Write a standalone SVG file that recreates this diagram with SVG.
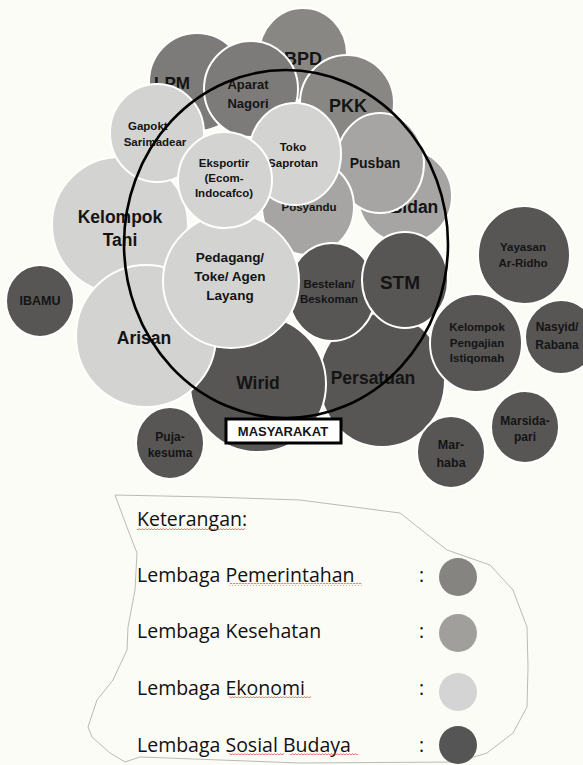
<svg xmlns="http://www.w3.org/2000/svg" width="583" height="765" viewBox="0 0 583 765">
  <defs>
    <style>
      .gov { fill: #888784; }
      .gov2 { fill: #7c7b79; }
      .hlt { fill: #a6a5a3; }
      .eco { fill: #d3d3d1; }
      .soc { fill: #575654; }
      .node ellipse { stroke: #ffffff; stroke-width: 2; }
      .lbl { font-family: "Liberation Sans", Arial, sans-serif; font-weight: bold; fill: #141414; text-anchor: middle; }
      .xl { font-size: 17.5px; }
      .l { font-size: 13.5px; }
      .s { font-size: 11.5px; }
      .ss { font-size: 12px; }
      .legend { font-family: "Open Sans", "Liberation Sans", sans-serif; font-size: 19.5px; fill: #111111; }
      .spell { fill: url(#squiggle); }
    </style>
    <pattern id="squiggle" x="0" y="0" width="3" height="3" patternUnits="userSpaceOnUse">
      <path d="M0 2.2 L1.5 0.6 L3 2.2" fill="none" stroke="#e03030" stroke-width="0.7"/>
    </pattern>
  </defs>

  <rect x="0" y="0" width="583" height="765" fill="#fcfcf6"/>

  <!-- upper cluster, back to front -->
  <g id="bpd" class="node"><ellipse class="gov" cx="303" cy="54" rx="44" ry="46"/><text class="lbl" x="303" y="65" font-size="18">BPD</text></g>
  <g id="lpm" class="node"><ellipse class="gov2" cx="197" cy="82" rx="48" ry="49"/><text class="lbl" x="172" y="89" font-size="17">LPM</text></g>
  <g id="aparat-nagori" class="node"><ellipse class="gov2" cx="251" cy="89" rx="47" ry="48"/><text class="lbl" x="248" y="89" font-size="13">Aparat</text><text class="lbl" x="248" y="108" font-size="13">Nagori</text></g>
  <g id="pkk" class="node"><ellipse class="gov" cx="347" cy="103" rx="47" ry="48"/><text class="lbl" x="348" y="112" font-size="18">PKK</text></g>
  <g id="kelompok-tani" class="node"><ellipse class="eco" cx="120" cy="225" rx="68" ry="68"/><text class="lbl xl" x="120" y="223">Kelompok</text><text class="lbl xl" x="120" y="246">Tani</text></g>
  <g id="gapoktan" class="node"><ellipse class="eco" cx="157" cy="133" rx="47" ry="49"/><text class="lbl s" x="128" y="130" style="text-anchor:start">Gapokt</text><text class="lbl s" x="155" y="146">Sarimadear</text></g>
  <g id="bidan" class="node"><ellipse class="hlt" cx="405" cy="196" rx="47" ry="47"/><text class="lbl xl" x="414" y="213">Bidan</text></g>
  <g id="pusban" class="node"><ellipse class="hlt" cx="380" cy="163" rx="44" ry="50"/><text class="lbl" x="375" y="168" font-size="14">Pusban</text></g>
  <g id="posyandu" class="node"><ellipse class="hlt" cx="308" cy="207" rx="46" ry="48"/><text class="lbl s" x="309" y="211">Posyandu</text></g>
  <g id="toko-saprotan" class="node"><ellipse class="eco" cx="295" cy="154" rx="46" ry="51"/><text class="lbl s" x="293" y="151">Toko</text><text class="lbl s" x="293" y="167">Saprotan</text></g>

  <!-- lower cluster -->
  <g id="persatuan" class="node"><ellipse class="soc" cx="382" cy="380" rx="63" ry="67"/><text class="lbl xl" x="373" y="384">Persatuan</text></g>
  <g id="wirid" class="node"><ellipse class="soc" cx="258" cy="384" rx="68" ry="68"/><text class="lbl xl" x="258" y="389">Wirid</text></g>
  <g id="arisan" class="node"><ellipse class="eco" cx="146" cy="336" rx="70" ry="71"/><text class="lbl xl" x="144" y="344">Arisan</text></g>
  <g id="bestelan" class="node"><ellipse class="soc" cx="332" cy="292" rx="44" ry="49"/><text class="lbl s" x="329" y="288">Bestelan/</text><text class="lbl s" x="329" y="303">Beskoman</text></g>
  <g id="stm" class="node"><ellipse class="soc" cx="405" cy="280" rx="43" ry="48"/><text class="lbl" x="400" y="289" font-size="19">STM</text></g>
  <g id="pedagang" class="node"><ellipse class="eco" cx="231" cy="281" rx="68" ry="67"/><text class="lbl l" x="230" y="262">Pedagang/</text><text class="lbl l" x="230" y="281">Toke/ Agen</text><text class="lbl l" x="230" y="300">Layang</text></g>
  <g id="eksportir" class="node"><ellipse class="eco" cx="225" cy="180" rx="47" ry="48"/><text class="lbl s" x="224" y="167">Eksportir</text><text class="lbl s" x="224" y="182">(Ecom-</text><text class="lbl s" x="224" y="197">Indocafco)</text></g>

  <!-- outer organisations -->
  <g id="ibamu" class="node"><ellipse class="soc" cx="40" cy="301" rx="34" ry="36"/><text class="lbl" x="40" y="305" font-size="12.5">IBAMU</text></g>
  <g id="puja-kesuma" class="node"><ellipse class="soc" cx="170" cy="443" rx="34" ry="36"/><text class="lbl ss" x="170" y="441">Puja-</text><text class="lbl ss" x="170" y="457">kesuma</text></g>
  <g id="yayasan" class="node"><ellipse class="soc" cx="524" cy="255" rx="46" ry="49"/><text class="lbl s" x="523" y="251">Yayasan</text><text class="lbl s" x="523" y="267">Ar-Ridho</text></g>
  <g id="pengajian" class="node"><ellipse class="soc" cx="476" cy="343" rx="46" ry="49"/><text class="lbl s" x="477" y="331">Kelompok</text><text class="lbl s" x="477" y="347">Pengajian</text><text class="lbl s" x="477" y="362">Istiqomah</text></g>
  <g id="nasyid" class="node"><ellipse class="soc" cx="561" cy="337" rx="36" ry="37"/><text class="lbl ss" x="557" y="331">Nasyid/</text><text class="lbl ss" x="557" y="349">Rabana</text></g>
  <g id="marsidapari" class="node"><ellipse class="soc" cx="525" cy="427" rx="34" ry="36"/><text class="lbl ss" x="525" y="425">Marsida-</text><text class="lbl ss" x="525" y="441">pari</text></g>
  <g id="marhaba" class="node"><ellipse class="soc" cx="451" cy="452" rx="34" ry="36"/><text class="lbl" x="451" y="449" font-size="12.5">Mar-</text><text class="lbl" x="451" y="467" font-size="12.5">haba</text></g>

  <!-- community boundary -->
  <g id="connectors">
    <ellipse cx="286" cy="244" rx="162" ry="174" fill="none" stroke="#000000" stroke-width="2.6"/>
  </g>
  <g id="masyarakat">
    <rect x="226" y="419" width="115" height="24" fill="#ffffff" stroke="#000000" stroke-width="3"/>
    <text class="lbl" x="283" y="436" font-size="13">MASYARAKAT</text>
  </g>

  <!-- legend -->
  <g id="legend">
    <path d="M115 495 L210 497 L300 500 L400 513 L447 550 L490 565 L513 590 L527 627 L528 667 L527 707 L513 733 L487 753 L457 762 L300 763 L140 757 L125 762 L110 753 L92 737 L88 727 L97 700 L113 680 L127 650 L128 627 L135 590 L137 553 L128 530 Z" fill="none" stroke="#a8a8a8" stroke-width="0.8"/>
    <text class="legend" x="137" y="526">Keterangan:</text>
    <rect class="spell" x="137" y="527" width="108" height="3"/>
    <text class="legend" x="137" y="582">Lembaga Pemerintahan</text>
    <rect class="spell" x="229" y="583" width="133" height="3"/>
    <text class="legend" x="137" y="638">Lembaga Kesehatan</text>
    <text class="legend" x="137" y="695">Lembaga Ekonomi</text>
    <rect class="spell" x="229" y="696" width="82" height="3"/>
    <text class="legend" x="137" y="752">Lembaga Sosial Budaya</text>
    <rect class="spell" x="229" y="753" width="55" height="3"/>
    <rect class="spell" x="290" y="753" width="68" height="3"/>
    <text class="legend" x="419" y="582">:</text>
    <text class="legend" x="419" y="638">:</text>
    <text class="legend" x="419" y="695">:</text>
    <text class="legend" x="419" y="752">:</text>
    <circle cx="458" cy="577" r="19" fill="#858480"/>
    <circle cx="458" cy="633" r="19" fill="#a09f9b"/>
    <circle cx="458" cy="692" r="19" fill="#d4d4d4"/>
    <circle cx="458" cy="745" r="19" fill="#555555"/>
  </g>
</svg>
